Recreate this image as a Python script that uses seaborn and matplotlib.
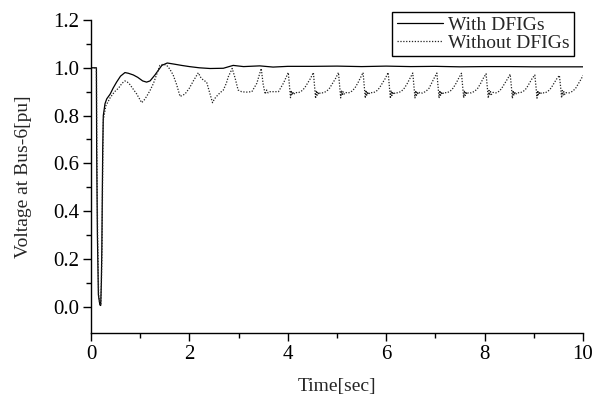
import numpy as np
import pandas as pd
import matplotlib
matplotlib.use("Agg")
import matplotlib.pyplot as plt
import seaborn as sns
from matplotlib.ticker import FixedLocator

# ---------------- data ----------------
t_with = [0.0, 0.11, 0.115, 0.13, 0.15, 0.18, 0.197, 0.21, 0.22, 0.238, 0.25, 0.285,
          0.32, 0.39, 0.45, 0.52, 0.6, 0.69, 0.76, 0.86, 0.95, 1.05, 1.13, 1.2, 1.3,
          1.44, 1.55, 1.7, 1.84, 2.0, 2.2, 2.42, 2.69, 2.89, 3.1, 3.43, 3.7, 4.0, 4.5,
          5.0, 5.5, 6.0, 6.5, 7.0, 7.5, 8.0, 8.5, 9.0, 9.5, 10.0]
v_with = [1.0, 1.0, 0.66, 0.3, 0.05, 0.008, 0.005, 0.1, 0.24, 0.66, 0.8, 0.85,
          0.87, 0.89, 0.915, 0.94, 0.965, 0.98, 0.977, 0.97, 0.96, 0.945, 0.94, 0.945, 0.97,
          1.01, 1.02, 1.015, 1.01, 1.005, 1.0, 0.997, 0.998, 1.01, 1.005, 1.008, 1.003, 1.006, 1.006,
          1.007, 1.005, 1.007, 1.005, 1.006, 1.004, 1.005, 1.005, 1.004, 1.004, 1.004]

t_without = [0.0, 0.11, 0.118, 0.135, 0.155, 0.18, 0.2, 0.212, 0.224, 0.24, 0.25, 0.3,
             0.39, 0.48, 0.56, 0.63, 0.69, 0.74, 0.79, 0.86, 0.93, 1.0, 1.03, 1.08, 1.13,
             1.2, 1.27, 1.34, 1.40, 1.47, 1.54, 1.6, 1.67, 1.74, 1.81, 1.86, 1.91, 2.0,
             2.08, 2.18, 2.23, 2.28, 2.35, 2.42, 2.47, 2.51, 2.55, 2.62, 2.69, 2.75, 2.79,
             2.87, 2.93, 2.99, 3.06, 3.15, 3.27, 3.37, 3.46, 3.5, 3.54, 3.57, 3.6, 3.64,
             3.81, 3.91, 4.01,
             4.035, 4.055, 4.07, 4.085, 4.10, 4.12, 4.15, 4.21, 4.28, 4.34, 4.40, 4.46, 4.52,
             4.545, 4.565, 4.58, 4.595, 4.61, 4.63, 4.66, 4.72, 4.79, 4.85, 4.91, 4.97, 5.03,
             5.055, 5.075, 5.09, 5.105, 5.12, 5.14, 5.17, 5.23, 5.30, 5.36, 5.42, 5.47, 5.53,
             5.555, 5.575, 5.59, 5.605, 5.62, 5.64, 5.67, 5.73, 5.80, 5.86, 5.92, 5.98, 6.04,
             6.065, 6.085, 6.10, 6.115, 6.13, 6.15, 6.18, 6.24, 6.31, 6.37, 6.43, 6.48, 6.54,
             6.565, 6.585, 6.60, 6.615, 6.63, 6.65, 6.68, 6.74, 6.81, 6.87, 6.92, 6.97, 7.03,
             7.055, 7.075, 7.09, 7.105, 7.12, 7.14, 7.17, 7.23, 7.30, 7.36, 7.42, 7.47, 7.53,
             7.555, 7.575, 7.59, 7.605, 7.62, 7.64, 7.67, 7.73, 7.80, 7.86, 7.92, 7.97, 8.03,
             8.055, 8.075, 8.09, 8.105, 8.12, 8.14, 8.17, 8.23, 8.30, 8.35, 8.41, 8.47, 8.52,
             8.545, 8.565, 8.58, 8.595, 8.61, 8.63, 8.66, 8.72, 8.79, 8.85, 8.91, 8.96, 9.02,
             9.045, 9.065, 9.08, 9.095, 9.11, 9.13, 9.16, 9.22, 9.29, 9.35, 9.41, 9.46, 9.52,
             9.545, 9.565, 9.58, 9.595, 9.61, 9.63, 9.66, 9.72, 9.79, 9.85, 9.91, 9.96, 10.0]
v_without = [1.0, 1.0, 0.66, 0.3, 0.05, 0.01, 0.006, 0.1, 0.25, 0.62, 0.78, 0.84,
             0.875, 0.9, 0.915, 0.935, 0.945, 0.94, 0.93, 0.91, 0.89, 0.865, 0.854, 0.865, 0.88,
             0.905, 0.935, 0.975, 1.01, 1.015, 1.01, 0.995, 0.97, 0.93, 0.88, 0.885, 0.89, 0.915,
             0.945, 0.979, 0.96, 0.949, 0.94, 0.89, 0.854, 0.87, 0.88, 0.895, 0.907, 0.935, 0.962,
             0.997, 0.956, 0.907, 0.90, 0.898, 0.90, 0.935, 0.997, 0.93, 0.89, 0.907, 0.895, 0.90,
             0.90, 0.935, 0.98,
             0.92, 0.875, 0.905, 0.885, 0.90, 0.888, 0.897, 0.895, 0.903, 0.915, 0.935, 0.955, 0.98,
             0.92, 0.872, 0.905, 0.885, 0.90, 0.888, 0.896, 0.895, 0.902, 0.915, 0.935, 0.955, 0.98,
             0.92, 0.874, 0.905, 0.884, 0.90, 0.889, 0.897, 0.894, 0.902, 0.914, 0.935, 0.955, 0.98,
             0.92, 0.873, 0.906, 0.885, 0.90, 0.888, 0.897, 0.895, 0.902, 0.915, 0.935, 0.955, 0.98,
             0.92, 0.872, 0.905, 0.884, 0.90, 0.888, 0.896, 0.895, 0.902, 0.915, 0.935, 0.955, 0.978,
             0.92, 0.874, 0.905, 0.885, 0.90, 0.889, 0.897, 0.894, 0.902, 0.914, 0.935, 0.955, 0.978,
             0.92, 0.873, 0.905, 0.885, 0.90, 0.888, 0.897, 0.895, 0.902, 0.915, 0.935, 0.955, 0.977,
             0.92, 0.874, 0.905, 0.884, 0.90, 0.889, 0.896, 0.895, 0.902, 0.914, 0.935, 0.955, 0.975,
             0.92, 0.873, 0.905, 0.885, 0.90, 0.888, 0.897, 0.895, 0.902, 0.915, 0.935, 0.955, 0.973,
             0.92, 0.872, 0.905, 0.884, 0.90, 0.888, 0.896, 0.895, 0.902, 0.914, 0.935, 0.953, 0.97,
             0.92, 0.873, 0.905, 0.885, 0.90, 0.889, 0.897, 0.894, 0.902, 0.915, 0.935, 0.952, 0.968,
             0.92, 0.874, 0.905, 0.884, 0.90, 0.888, 0.896, 0.895, 0.902, 0.914, 0.935, 0.952, 0.968]

series_labels = ["With DFIGs", "Without DFIGs"]
x_ticks = [0, 2, 4, 6, 8, 10]
y_ticks = [0.0, 0.2, 0.4, 0.6, 0.8, 1.0, 1.2]
x_label = "Time[sec]"
y_label = "Voltage at Bus-6[pu]"

# ---------------- style ----------------
sns.set_style("ticks")
plt.rcParams["font.family"] = ["Liberation Serif", "DejaVu Serif"]
plt.rcParams["axes.linewidth"] = 1.0

fig = plt.figure(figsize=(5.96, 3.99), dpi=100)
ax = fig.add_axes([91 / 596, 1 - 333 / 399, (583 - 91) / 596, (333 - 20) / 399])

df_with = pd.DataFrame({"t": t_with, "v": v_with})
df_without = pd.DataFrame({"t": t_without, "v": v_without})

sns.lineplot(data=df_with, x="t", y="v", ax=ax, color="black", linewidth=0.9,
             label=series_labels[0], estimator=None, sort=False)
sns.lineplot(data=df_without, x="t", y="v", ax=ax, color="#222222", linewidth=0.9,
             linestyle=(0, (1, 1.3)), label=series_labels[1], estimator=None, sort=False)

ax.set_xlim(0, 10)
ax.set_ylim(-0.11, 1.2)
ax.set_xticks(x_ticks)
ax.set_xticklabels([str(v) for v in x_ticks])
ax.set_yticks(y_ticks)
ax.set_yticklabels([f"{v:.1f}" for v in y_ticks])
ax.xaxis.set_minor_locator(FixedLocator([1, 3, 5, 7, 9]))
ax.yaxis.set_minor_locator(FixedLocator([0.1, 0.3, 0.5, 0.7, 0.9, 1.1]))
ax.tick_params(axis="both", which="major", direction="out", length=6, width=1,
               labelsize=15, colors="black", pad=2.5)
ax.tick_params(axis="both", which="minor", direction="out", length=3.5, width=1, colors="black")
sns.despine(ax=ax)
ax.spines["left"].set_color("black")
ax.spines["bottom"].set_color("black")

ax.set_xlabel(x_label, fontsize=14, labelpad=10)
ax.set_ylabel(y_label, fontsize=14, labelpad=15)

leg = ax.legend(loc="upper right", bbox_to_anchor=(574 / 596, 1 - 12 / 399),
                bbox_transform=fig.transFigure, frameon=True, fancybox=False,
                edgecolor="black", framealpha=1, fontsize=14, handlelength=2.4,
                handletextpad=0.25, labelspacing=0.0, borderpad=0.22, borderaxespad=0)
leg.get_frame().set_linewidth(1.0)

fig.savefig("out.png", dpi=100)
